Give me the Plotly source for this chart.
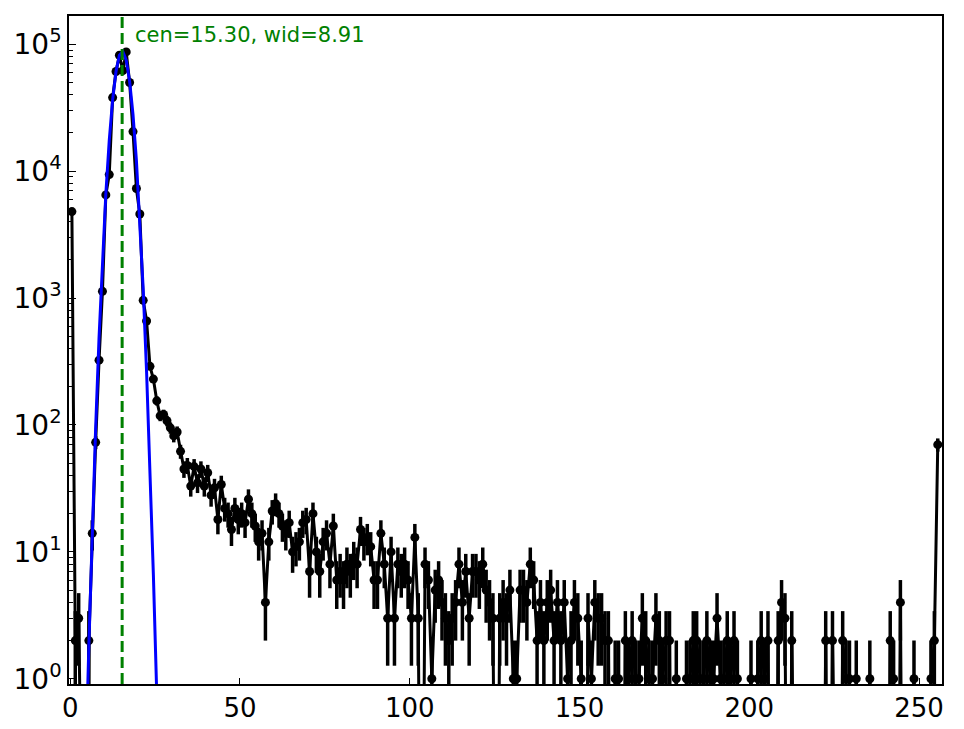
import numpy as np
import plotly.graph_objects as go

# 256 channels, points drawn at the bin centres
channels = np.arange(256) + 0.5

# counts per channel (0 = empty bin)
counts = [
    4800, 2, 3, 0, 0, 2, 14, 73, 324, 1130, 6500, 9400, 38000, 61000, 82000, 62000,
    87000, 50000, 20500, 7300, 4600, 960, 660, 290, 230, 155, 118, 121, 108, 95, 82, 88,
    62, 45, 48, 33, 47, 35, 45, 33, 42, 28, 32, 18, 34, 22, 20, 15,
    22, 18, 20, 17, 26, 20, 16, 12, 14, 4, 12, 21, 24, 20, 16, 14,
    17, 10, 11, 12, 17, 18, 7, 20, 10, 7, 12, 14, 8, 16, 6, 7,
    6, 8, 7, 9, 8, 15, 12, 13, 11, 6, 6, 14, 8, 3, 10, 3,
    8, 7, 8, 6, 3, 13, 3, 0, 8, 6, 1, 5, 6, 4, 3, 2,
    3, 4, 8, 4, 7, 3, 7, 7, 6, 8, 5, 4, 3, 0, 3, 4,
    3, 5, 1, 1, 5, 5, 4, 8, 6, 2, 4, 2, 4, 5, 2, 4,
    2, 4, 1, 2, 4, 3, 1, 0, 3, 1, 4, 3, 3, 2, 2, 0,
    1, 1, 0, 2, 1, 2, 1, 1, 3, 2, 1, 1, 3, 2, 1, 2,
    2, 0, 1, 0, 0, 1, 1, 2, 2, 1, 1, 2, 1, 1, 3, 1,
    1, 2, 1, 2, 1, 0, 0, 0, 1, 0, 1, 2, 1, 2, 0, 0,
    2, 4, 3, 0, 2, 0, 0, 0, 0, 0, 0, 0, 0, 0, 2, 0,
    2, 0, 0, 2, 1, 1, 0, 1, 0, 0, 0, 1, 0, 0, 0, 0,
    0, 2, 1, 0, 4, 0, 0, 0, 1, 0, 0, 0, 0, 1, 2, 70,
]

# gaussian fit: amp * exp(-(x - cen)^2 / wid)
fit_amp = 88000.0
fit_cen = 15.30
fit_wid = 8.91

x_ticks = [0, 50, 100, 150, 200, 250]
y_powers = [0, 1, 2, 3, 4, 5]

counts = np.array(counts, dtype=float)
errs = np.sqrt(counts)
# empty bins: drop the line to the bottom like matplotlib's log clipping
line_y = np.where(counts > 0, counts, 1e-3)
fit_y = fit_amp * np.exp(-(channels - fit_cen) ** 2 / fit_wid)

minor_vals = [k * 10.0 ** p for p in range(-1, 6) for k in range(2, 10)]

fig = go.Figure()
fig.add_trace(go.Scatter(
    x=channels, y=line_y,
    mode="lines+markers",
    line=dict(color="black", width=3),
    marker=dict(color="black", size=9),
    error_y=dict(type="data", array=errs, visible=True, color="black",
                 thickness=3.5, width=0),
    showlegend=False,
))
fig.add_trace(go.Scatter(
    x=channels, y=fit_y,
    mode="lines",
    line=dict(color="blue", width=3),
    showlegend=False,
))

# fitted centre
fig.add_shape(type="line", x0=fit_cen, x1=fit_cen, y0=0, y1=1,
              xref="x", yref="paper",
              line=dict(color="green", width=3, dash="11px,5px"))
fig.add_annotation(x=fit_cen + 3.2, y=0.972, xref="x", yref="paper",
                   text=f"cen={fit_cen:.2f}, wid={fit_wid:.2f}",
                   showarrow=False, xanchor="left", yanchor="middle",
                   font=dict(color="green", size=21))

# page body adds an 8px offset, so the figure is sized to fit the window
fig.update_layout(
    width=956, height=721,
    margin=dict(l=60, r=22, t=6, b=45),
    plot_bgcolor="white",
    paper_bgcolor="white",
    font=dict(family="DejaVu Sans", color="black"),
    xaxis=dict(
        range=[-0.35, 256.75],
        tickmode="array", tickvals=x_ticks,
        ticks="inside", ticklen=6, tickcolor="black",
        tickfont=dict(size=26),
        showline=True, linecolor="black", linewidth=1.5, mirror=True,
        showgrid=False, zeroline=False,
    ),
    yaxis=dict(
        type="log",
        range=[np.log10(0.91), np.log10(1.67e5)],
        tickmode="array",
        tickvals=[10 ** p for p in y_powers],
        ticktext=[f"10<sup>{p}</sup>" for p in y_powers],
        ticks="inside", ticklen=7, tickcolor="black",
        minor=dict(tickmode="array", tickvals=minor_vals, ticks="inside",
                   ticklen=4, tickcolor="black", showgrid=False),
        tickfont=dict(size=28),
        showline=True, linecolor="black", linewidth=1.5, mirror=True,
        showgrid=False, zeroline=False,
    ),
)

fig.write_html("out.html")
